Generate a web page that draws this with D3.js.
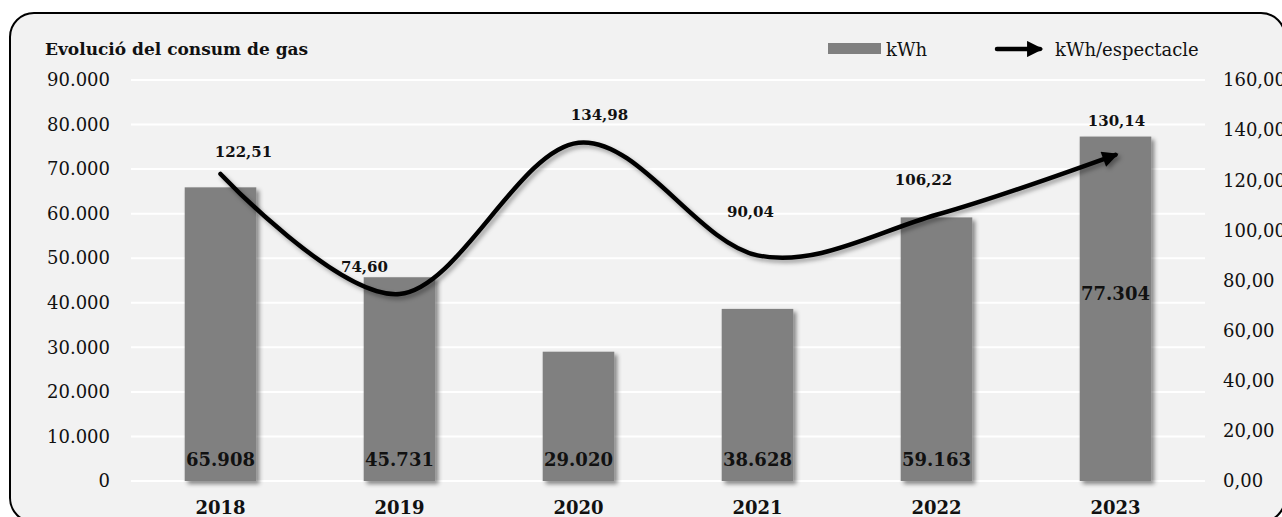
<!DOCTYPE html>
<html><head><meta charset="utf-8">
<script src="https://cdn.jsdelivr.net/npm/d3@7/dist/d3.min.js"></script>
<style>html,body{margin:0;padding:0;background:#fff;overflow:hidden}</style>
</head><body>
<svg id="chart" width="1282" height="517"></svg>
<script>
// ---- data ----
const years = ["2018","2019","2020","2021","2022","2023"];
const kwh = [65908, 45731, 29020, 38628, 59163, 77304];
const kwhPerShow = [122.51, 74.60, 134.98, 90.04, 106.22, 130.14];
const leftTicks = [0,10000,20000,30000,40000,50000,60000,70000,80000,90000];
const rightTicks = [0,20,40,60,80,100,120,140,160];
const title = "Evolució del consum de gas";
const legendNames = ["kWh", "kWh/espectacle"];

// ---- presentation (label placement nudges, px) ----
const lineLabelDx = [23, -35, 21, -7, -13, 1];
const lineLabelDy = [-17, -22, -23, -38, -30, -29];
const barLabelAnchorKwh = {"2023": 40700}; // override: label drawn mid-bar

const loc = d3.formatLocale({decimal:",", thousands:".", grouping:[3]});
const fmtK = loc.format(",d");
const fmtR = loc.format(",.2f");

const svg = d3.select("#chart");
const FONT = "'DejaVu Serif', serif";
const defs = svg.append("defs");
const sh = defs.append("filter").attr("id","shadow").attr("x","-20%").attr("y","-20%").attr("width","150%").attr("height","150%");
sh.append("feDropShadow").attr("dx",3).attr("dy",3).attr("stdDeviation",2.2).attr("flood-color","#000").attr("flood-opacity",0.45);
const shl = defs.append("filter").attr("id","lshadow").attr("x","-10%").attr("y","-20%").attr("width","120%").attr("height","150%");
shl.append("feDropShadow").attr("dx",2.5).attr("dy",3).attr("stdDeviation",2).attr("flood-color","#000").attr("flood-opacity",0.35);
defs.append("marker").attr("id","arrow").attr("viewBox","0 0 10 10").attr("refX",8).attr("refY",5)
  .attr("markerWidth",4).attr("markerHeight",3.6).attr("orient","auto").attr("markerUnits","strokeWidth")
  .append("path").attr("d","M0,0 L10,5 L0,10 Z").attr("fill","#000");

// panel
svg.append("rect").attr("x",10).attr("y",13).attr("width",1275).attr("height",509)
  .attr("rx",24).attr("ry",24).attr("fill","#f2f2f2").attr("stroke","#000").attr("stroke-width",2);

const x = d3.scaleBand().domain(years).range([131,1205]).paddingInner(0.6).paddingOuter(0.3);
const y = d3.scaleLinear().domain([0,90000]).range([481,80]);
const y2 = d3.scaleLinear().domain([0,160]).range([481,80]);

// gridlines
svg.append("g").selectAll("line").data(leftTicks).join("line")
  .attr("x1",131).attr("x2",1205).attr("y1",d=>y(d)).attr("y2",d=>y(d))
  .attr("stroke","#ffffff").attr("stroke-width",2);

// left axis
const gl = svg.append("g").attr("transform","translate(131,0)")
  .call(d3.axisLeft(y).tickValues(leftTicks).tickFormat(d=>fmtK(d)).tickSize(0).tickPadding(21));
gl.select(".domain").remove();
gl.selectAll("text").attr("font-family",FONT).attr("font-size",18).attr("fill","#111");

// right axis
const gr = svg.append("g").attr("transform","translate(1205,0)")
  .call(d3.axisRight(y2).tickValues(rightTicks).tickFormat(d=>fmtR(d)).tickSize(0).tickPadding(18));
gr.select(".domain").remove();
gr.selectAll("text").attr("font-family",FONT).attr("font-size",18).attr("fill","#111");

// x axis
const gx = svg.append("g").attr("transform","translate(0,481)")
  .call(d3.axisBottom(x).tickSize(0).tickPadding(20));
gx.select(".domain").remove();
gx.selectAll("text").attr("font-family",FONT).attr("font-size",18).attr("font-weight","bold").attr("fill","#111");

// bars
const bw = x.bandwidth();
svg.append("g").attr("filter","url(#shadow)").selectAll("rect").data(years).join("rect")
  .attr("x",d=>x(d)).attr("width",bw)
  .attr("y",(d,i)=>y(kwh[i])).attr("height",(d,i)=>y(0)-y(kwh[i]))
  .attr("fill","#808080");

// bar labels
svg.append("g").selectAll("text").data(years).join("text")
  .attr("x",d=>x(d)+bw/2)
  .attr("y",d=> barLabelAnchorKwh[d]!==undefined ? y(barLabelAnchorKwh[d]) : y(0)-15)
  .attr("text-anchor","middle").attr("font-family",FONT).attr("font-size",18).attr("font-weight","bold").attr("fill","#111")
  .text((d,i)=>fmtK(kwh[i]));

// line
const pts = years.map((d,i)=>[x(d)+bw/2, y2(kwhPerShow[i])]);
svg.append("path").datum(pts)
  .attr("d", d3.line().curve(d3.curveCardinal.tension(0)))
  .attr("fill","none").attr("stroke","#000").attr("stroke-width",4.5).attr("stroke-linecap","round")
  .attr("marker-end","url(#arrow)").attr("filter","url(#lshadow)");

// line labels
svg.append("g").selectAll("text").data(years).join("text")
  .attr("x",(d,i)=>pts[i][0]+lineLabelDx[i]).attr("y",(d,i)=>pts[i][1]+lineLabelDy[i])
  .attr("text-anchor","middle").attr("font-family",FONT).attr("font-size",15).attr("font-weight","bold").attr("fill","#111")
  .text((d,i)=>fmtR(kwhPerShow[i]));

// title
svg.append("text").attr("x",45).attr("y",55).attr("font-family",FONT).attr("font-size",17).attr("font-weight","bold")
  .attr("fill","#111").text(title);

// legend
svg.append("rect").attr("x",828).attr("y",43).attr("width",53).attr("height",11).attr("fill","#808080");
svg.append("text").attr("x",886).attr("y",56).attr("font-family",FONT).attr("font-size",18).attr("fill","#111").text(legendNames[0]);
svg.append("line").attr("x1",997).attr("x2",1040).attr("y1",49).attr("y2",49)
  .attr("stroke","#000").attr("stroke-width",4.5).attr("stroke-linecap","round").attr("marker-end","url(#arrow)");
svg.append("text").attr("x",1055).attr("y",56).attr("font-family",FONT).attr("font-size",18).attr("fill","#111").text(legendNames[1]);
</script>
</body></html>
